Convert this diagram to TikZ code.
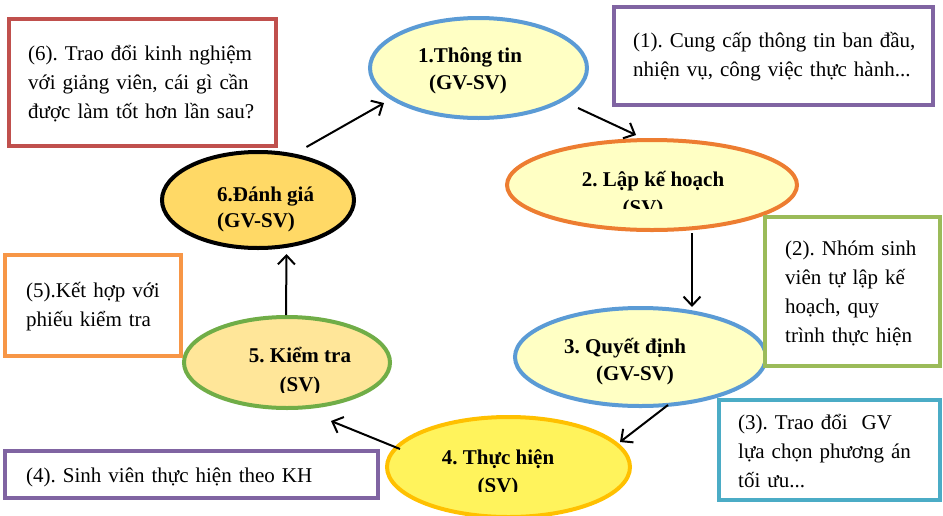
\documentclass[tikz,border=0pt]{standalone}
\usepackage{fontspec}
\setmainfont{Liberation Serif}
\usetikzlibrary{shapes.geometric,arrows.meta,calc}
\frenchspacing
\definecolor{lyel}{HTML}{FFFFC4}
\definecolor{byel}{HTML}{FFF35C}
\definecolor{pora}{HTML}{FFE699}
\definecolor{gold}{HTML}{FFD966}
\definecolor{sblue}{HTML}{5B9BD5}
\definecolor{sora}{HTML}{ED7D31}
\definecolor{sgold}{HTML}{FFC000}
\definecolor{sgreen}{HTML}{70AD47}
\definecolor{bred}{HTML}{C0504D}
\definecolor{bpurple}{HTML}{8064A2}
\definecolor{bgreen}{HTML}{9BBB59}
\definecolor{bteal}{HTML}{4BACC6}
\definecolor{borange}{HTML}{F79646}
\begin{document}
\begin{tikzpicture}[x=1pt,y=-1pt,
  ell/.style={ellipse, line width=4pt, inner sep=0pt},
  bx/.style={rectangle, fill=white, line width=4pt, inner sep=0pt},
  lbl/.style={font=\fontsize{21}{28}\selectfont\bfseries\frenchspacing, inner sep=0pt, anchor=base},
  note/.style={font=\fontsize{21}{29}\selectfont\frenchspacing, inner sep=0pt, anchor=base west, text width=330pt, align=left},
  arr/.style={line width=2pt, -{Straight Barb[length=9pt,width=17pt]}}]
\clip (0,0) rectangle (943,515);
\useasboundingbox (0,0) rectangle (943,515);
% ellipses
\node[ell, draw=sblue, fill=lyel, minimum width=217pt, minimum height=100pt] (e1) at (478.5,68) {};
\node[ell, draw=sora, fill=lyel, minimum width=290pt, minimum height=90pt] (e2) at (652,185) {};
\node[ell, draw=sblue, fill=lyel, minimum width=251pt, minimum height=98pt] (e3) at (640.5,357) {};
\node[ell, draw=sgold, fill=byel, minimum width=243pt, minimum height=100pt] (e4) at (508.5,467) {};
\node[ell, draw=sgreen, fill=pora, minimum width=206pt, minimum height=91pt] (e5) at (287,362.5) {};
\node[ell, draw=black, fill=gold, minimum width=192pt, minimum height=96pt] (e6) at (258,200) {};
% ellipse labels
\node[lbl] (t1a) at (470,62) {1.Thông tin};
\node[lbl] (t1b) at (468,89) {(GV-SV)};
\node[lbl] (t2a) at (653,186) {2. Lập kế hoạch};
\begin{scope}
\clip (0,0) rectangle (943,208);
\node[lbl] (t2b) at (643,214) {(SV)};
\end{scope}
\node[lbl] (t3a) at (625,353) {3. Quyết định};
\node[lbl] (t3b) at (635,380) {(GV-SV)};
\node[lbl] (t4a) at (498,464) {4. Thực hiện};
\begin{scope}
\clip (0,0) rectangle (943,491);
\node[lbl] (t4b) at (498,492) {(SV)};
\end{scope}
\node[lbl] (t5a) at (300,362) {5. Kiểm tra};
\begin{scope}
\clip (0,0) rectangle (943,392);
\node[lbl] (t5b) at (300,391) {(SV)};
\end{scope}
\node[lbl, anchor=base west] (t6a) at (217,201) {6.Đánh giá};
\node[lbl, anchor=base west] (t6b) at (217,227) {(GV-SV)};
% arrows
\draw[arr] ($(e6.center)+(48.5,-53)$) -- ($(e1.center)+(-94.5,35)$);
\draw[arr] ($(e1.center)+(99.5,40)$) -- ($(e2.center)+(-16,-50)$);
\draw[arr] ($(e2.center)+(40,48)$) -- ($(e3.center)+(51.5,-50)$);
\draw[arr] ($(e3.center)+(27.5,48)$) -- ($(e4.center)+(111.5,-25)$);
\draw[arr] ($(e4.center)+(-108.5,-18)$) -- ($(e5.center)+(44,58.5)$);
\draw[arr] ($(e5.center)+(-1,-47.5)$) -- ($(e6.center)+(28.5,54)$);
% note boxes
\node[bx, draw=bred, minimum width=267pt, minimum height=127pt] (b6) at (142.5,82.5) {};
\node[note] (n6) at (28,60) {(6). Trao đổi kinh nghiệm\\với giảng viên, cái gì cần\\được làm tốt hơn lần sau?};
\node[bx, draw=bpurple, minimum width=319pt, minimum height=98pt] (b1) at (773.5,56) {};
\node[note] (n1) at (633,47) {(1). Cung cấp thông tin ban đầu,\\nhiện vụ, công việc thực hành...};
\node[bx, draw=bgreen, minimum width=175pt, minimum height=149pt] (b2) at (852.5,291.5) {};
\node[note] (n2) at (785,255) {(2). Nhóm sinh\\viên tự lập kế\\hoạch, quy\\trình thực hiện};
\node[bx, draw=bteal, minimum width=221pt, minimum height=100pt] (b3) at (829.5,450) {};
\node[note] (n3) at (738,429) {(3). Trao đổi~ GV\\lựa chọn phương án\\tối ưu...};
\node[bx, draw=borange, minimum width=176pt, minimum height=101pt] (b5) at (93,305.5) {};
\node[note] (n5) at (26,297) {(5).Kết hợp với\\phiếu kiểm tra};
\node[bx, draw=bpurple, minimum width=373pt, minimum height=47pt] (b4) at (191.5,474.5) {};
\node[note] (n4) at (26,482) {(4). Sinh viên thực hiện theo KH};
\end{tikzpicture}
\end{document}
